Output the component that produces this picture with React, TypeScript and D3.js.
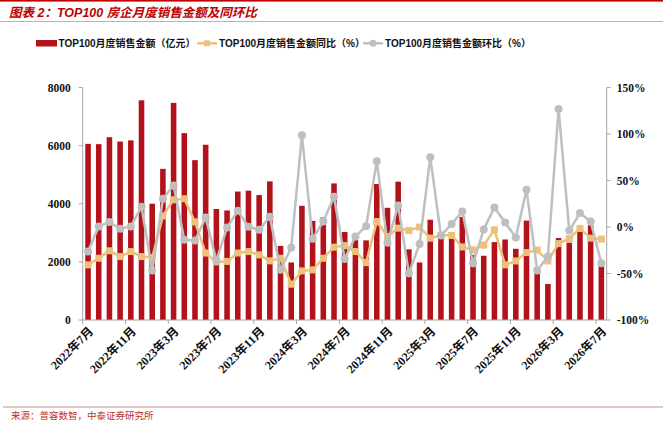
import React from 'react';
import * as d3 from 'd3';

const MONTHS = [
  '2022年7月', '2022年8月', '2022年9月', '2022年10月', '2022年11月', '2022年12月',
  '2023年1月', '2023年2月', '2023年3月', '2023年4月', '2023年5月', '2023年6月',
  '2023年7月', '2023年8月', '2023年9月', '2023年10月', '2023年11月', '2023年12月',
  '2024年1月', '2024年2月', '2024年3月', '2024年4月', '2024年5月', '2024年6月',
  '2024年7月', '2024年8月', '2024年9月', '2024年10月', '2024年11月', '2024年12月',
  '2025年1月', '2025年2月', '2025年3月', '2025年4月', '2025年5月', '2025年6月',
  '2025年7月', '2025年8月', '2025年9月', '2025年10月', '2025年11月', '2025年12月',
  '2026年1月', '2026年2月', '2026年3月', '2026年4月', '2026年5月', '2026年6月',
  '2026年7月',
];

// TOP100 月度销售金额（亿元）
const SALES = [
  6060, 6050, 6290, 6140, 6180, 7560, 4000, 5200, 7470, 6430, 5500, 6030,
  3820, 3770, 4420, 4450, 4300, 4770, 2550, 1980, 3930, 3410, 3530, 4700,
  3030, 2750, 2740, 4680, 3860, 4760, 2430, 1980, 3450, 2850, 2800, 3550,
  2240, 2210, 2680, 2770, 2450, 3420, 1820, 1240, 2820, 2660, 3050, 3260,
  1950,
];

// 同比（%）
const YOY = [
  -40.7, -33.6, -25.6, -31.8, -26.4, -31.8, -33, 12, 29.3, 30.4, 5.5, -28,
  -37.5, -37, -28, -26.4, -30, -36.4, -33.6, -61.5, -47.2, -46.1, -33.6, -21.7,
  -20, -26.4, -38.3, 5.9, -10.2, -1.2, -3.8, -0.1, -12, -9, -9, -21.5,
  -24.6, -19.5, -3, -40.7, -36.5, -27.5, -24.8, -36.5, -17.8, -12.5, -1.5, -12,
  -13,
];

// 环比（%）
const MOM = [
  -26.4, 0.6, 5.3, -1.9, 0.6, 21.8, -46.8, 30.4, 44.7, -13.8, -14.5, 10.3,
  -36.1, -0.5, 17.5, 0.2, -3, 11, -46.1, -22.1, 98.6, -12.7, 5.9, 32.6,
  -34.3, -10.2, 0.9, 70.6, -17, 23.2, -49.7, -18.4, 74.9, -9.1, 3.1, 16.7,
  -38.9, -2.7, 21, 4.9, -11.3, 40.1, -46.8, -31.8, 127, -3.8, 15, 5.9,
  -38.9,
];

const LEFT_TICKS = [0, 2000, 4000, 6000, 8000];
const RIGHT_TICKS = [-100, -50, 0, 50, 100, 150];
const X_TICK_LABELS = [
  '2022年7月', '2022年11月', '2023年3月', '2023年7月', '2023年11月', '2024年3月',
  '2024年7月', '2024年11月', '2025年3月', '2025年7月', '2025年11月', '2026年3月',
  '2026年7月',
];

const W = 663;
const H = 426;
const margin = { left: 82.7, right: 606.7, top: 87.5, bottom: 320 };

const RED = '#B3121B';
const TAN = '#EDC07C';
const GREY = '#BFBFBF';
const AXIS = '#A6A6A6';
const NUM_FONT = "'Liberation Serif', 'Times New Roman', 'Noto Sans CJK SC', serif";
const CJK_FONT = "'Liberation Sans', Arial, 'Noto Sans CJK SC', sans-serif";

export default function App() {
  const x = d3.scaleBand<number>()
    .domain(MONTHS.map((_, i) => i))
    .range([margin.left, margin.right])
    .paddingInner(0.48)
    .paddingOuter(0.24);
  const step = (margin.right - margin.left) / MONTHS.length;
  const cx = (i: number) => (x(i) ?? 0) + x.bandwidth() / 2;

  const yL = d3.scaleLinear().domain([0, 8000]).range([margin.bottom, margin.top]);
  const yR = d3.scaleLinear().domain([-100, 150]).range([margin.bottom, margin.top]);

  const line = d3.line<number>()
    .x((_, i) => cx(i))
    .y((d) => yR(d));

  const tickIdx = X_TICK_LABELS.map((l) => MONTHS.indexOf(l));

  return (
    <>
      <style>{'body{margin:0;background:#fff}'}</style>
      <svg width={W} height={H} viewBox={`0 0 ${W} ${H}`} style={{ display: 'block' }}>
        <rect x={0} y={0} width={W} height={H} fill="#fff" />
        <rect x={0} y={0} width={W} height={1.6} fill="#C00000" />
        <text
          x={9}
          y={17}
          fontFamily={CJK_FONT}
          fontSize={12.5}
          fontWeight="bold"
          fontStyle="italic"
          fill="#C00000"
        >
          图表 2：TOP100 房企月度销售金额及同环比
        </text>
        <line x1={0} x2={W} y1={21.5} y2={21.5} stroke="#D98C8C" strokeWidth={0.8} />

        {/* legend */}
        <g fontFamily={CJK_FONT} fontSize={10} fontWeight="bold" fill="#111">
          <rect x={36} y={40} width={21} height={6.5} fill={RED} />
          <text x={58.5} y={43.3} dy="0.36em">TOP100月度销售金额（亿元）</text>
          <line x1={197} x2={217} y1={43.3} y2={43.3} stroke={TAN} strokeWidth={2.5} />
          <rect x={204} y={40.3} width={6} height={6} fill={TAN} />
          <text x={219} y={43.3} dy="0.36em">TOP100月度销售金额同比（%）</text>
          <line x1={363} x2={383} y1={43.3} y2={43.3} stroke={GREY} strokeWidth={2.5} />
          <circle cx={373} cy={43.3} r={3.5} fill={GREY} />
          <text x={385} y={43.3} dy="0.36em">TOP100月度销售金额环比（%）</text>
        </g>

        {/* bars */}
        <g>
          {SALES.map((v, i) => (
            <rect
              key={i}
              x={x(i)}
              y={yL(v)}
              width={x.bandwidth()}
              height={yL(0) - yL(v)}
              fill={RED}
            />
          ))}
        </g>

        {/* axes */}
        <g stroke={AXIS} strokeWidth={1} fill="none">
          <line x1={margin.left} x2={margin.left} y1={margin.top} y2={margin.bottom} />
          <line x1={margin.right} x2={margin.right} y1={margin.top} y2={margin.bottom} />
          <line x1={margin.left} x2={margin.right} y1={margin.bottom} y2={margin.bottom} />
          {LEFT_TICKS.map((t) => (
            <line key={t} x1={margin.left - 4} x2={margin.left} y1={yL(t)} y2={yL(t)} />
          ))}
          {RIGHT_TICKS.map((t) => (
            <line key={t} x1={margin.right} x2={margin.right + 4} y1={yR(t)} y2={yR(t)} />
          ))}
          {d3.range(0, MONTHS.length + 1, 4).map((k) => (
            <line
              key={k}
              x1={margin.left + k * step}
              x2={margin.left + k * step}
              y1={margin.bottom}
              y2={margin.bottom + 4}
            />
          ))}
        </g>

        <g fontFamily={NUM_FONT} fontSize={11.5} fontWeight="bold" fill="#111">
          {LEFT_TICKS.map((t) => (
            <text key={t} x={margin.left - 12} y={yL(t)} dy="0.35em" textAnchor="end">
              {t}
            </text>
          ))}
          {RIGHT_TICKS.map((t) => (
            <text key={t} x={margin.right + 10} y={yR(t)} dy="0.35em">
              {`${t}%`}
            </text>
          ))}
          {tickIdx.map((i, k) => (
            <text
              key={k}
              transform={`translate(${cx(i) + 3},${margin.bottom + 9}) rotate(-45)`}
              dy="0.35em"
              textAnchor="end"
              fontSize={12}
            >
              {X_TICK_LABELS[k]}
            </text>
          ))}
        </g>

        {/* YoY line */}
        <path d={line(YOY) ?? ''} fill="none" stroke={TAN} strokeWidth={2.5} />
        {YOY.map((v, i) => (
          <rect key={i} x={cx(i) - 3.5} y={yR(v) - 3.5} width={7} height={7} fill={TAN} />
        ))}

        {/* MoM line */}
        <path d={line(MOM) ?? ''} fill="none" stroke={GREY} strokeWidth={2.5} />
        {MOM.map((v, i) => (
          <circle key={i} cx={cx(i)} cy={yR(v)} r={4} fill={GREY} />
        ))}

        <line x1={3} x2={W} y1={407} y2={407} stroke="#C89090" strokeWidth={1} />
        <text x={11} y={416} dy="0.35em" fontFamily={CJK_FONT} fontSize={9.5} fill="#C0302B">
          来源：普容数智，中泰证券研究所
        </text>
      </svg>
    </>
  );
}
